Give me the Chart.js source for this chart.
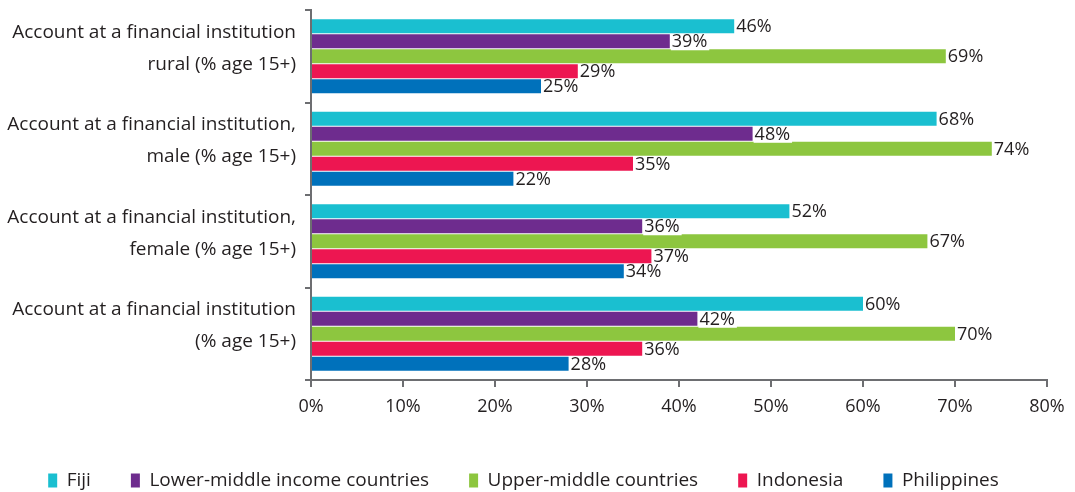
<!DOCTYPE html>
<html>
<head>
<meta charset="utf-8">
<script src="https://cdn.jsdelivr.net/npm/chart.js@4/dist/chart.umd.min.js"></script>
<style>
  html, body { margin: 0; padding: 0; background: #fff; }
  .chartBox { width: 1075px; height: 492px; }
</style>
</head>
<body>
<div class="chartBox"><canvas id="chart"></canvas></div>
<script>
// data
const categories = [
  ["Account at a financial institution", "rural (% age 15+)"],
  ["Account at a financial institution,", "male (% age 15+)"],
  ["Account at a financial institution,", "female (% age 15+)"],
  ["Account at a financial institution", "(% age 15+)"],
];
const seriesNames = ["Fiji", "Lower-middle income countries", "Upper-middle countries", "Indonesia", "Philippines"];
const fiji = [46, 68, 52, 60];
const lowerMiddle = [39, 48, 36, 42];
const upperMiddle = [69, 74, 67, 70];
const indonesia = [29, 35, 37, 36];
const philippines = [25, 22, 34, 28];
const xTicks = [0, 10, 20, 30, 40, 50, 60, 70, 80];

const colors = ["#1abfd0", "#6e2c8e", "#8dc63f", "#ed1651", "#0071bb"];
const seriesValues = [fiji, lowerMiddle, upperMiddle, indonesia, philippines];
const FONT = "'Open Sans', sans-serif";
const TEXT = "#231f20";
const AXIS = "#6d6e71";

// value labels with white box, right of bar end
const valueLabels = {
  id: "valueLabels",
  afterDatasetsDraw(chart) {
    const { ctx } = chart;
    ctx.save();
    ctx.font = "18px " + FONT;
    ctx.textBaseline = "middle";
    ctx.textAlign = "left";
    chart.data.datasets.forEach((dataset, di) => {
      const meta = chart.getDatasetMeta(di);
      meta.data.forEach((bar, i) => {
        const txt = dataset.data[i] + "%";
        const w = ctx.measureText(txt).width;
        ctx.fillStyle = "#fff";
        ctx.fillRect(bar.x + 1, bar.y - 7, w + 3, 16);
        ctx.fillStyle = TEXT;
        ctx.fillText(txt, bar.x + 2, bar.y + 1);
      });
    });
    ctx.restore();
  },
};

// push legend a bit lower
const legendShift = {
  id: "legendShift",
  afterLayout(chart) {
    chart.legend.top += 8;
    chart.legend.bottom += 8;
  },
};

const data = {
  labels: categories,
  datasets: seriesNames.map((name, i) => ({
    label: name,
    data: seriesValues[i],
    backgroundColor: colors[i],
    borderWidth: 0,
    categoryPercentage: 0.81,
    barPercentage: 0.93,
  })),
};

new Chart(document.getElementById("chart"), {
  type: "bar",
  data,
  options: {
    indexAxis: "y",
    responsive: true,
    maintainAspectRatio: false,
    animation: false,
    layout: { padding: { top: 10, right: 28, left: 0, bottom: 0 } },
    plugins: {
      legend: {
        position: "bottom",
        labels: {
          boxWidth: 9,
          boxHeight: 14,
          padding: 40,
          color: TEXT,
          font: { family: FONT, size: 19 },
        },
      },
      tooltip: { enabled: false },
    },
    scales: {
      x: {
        min: 0,
        max: 80,
        afterBuildTicks(scale) {
          scale.ticks = xTicks.map((v) => ({ value: v }));
        },
        afterFit(scale) {
          scale.height = 43;
          scale.paddingLeft = 0;
          scale.paddingRight = 0;
        },
        border: { color: AXIS, width: 2 },
        grid: {
          drawOnChartArea: false,
          drawTicks: true,
          tickLength: 7,
          color: AXIS,
          lineWidth: 2,
        },
        ticks: {
          padding: 9,
          color: TEXT,
          font: { family: FONT, size: 18 },
          callback: (v) => v + "%",
        },
      },
      y: {
        afterFit(scale) {
          scale.width = 311;
          scale.paddingTop = 0;
          scale.paddingBottom = 0;
        },
        border: { color: AXIS, width: 2 },
        grid: {
          offset: true,
          drawOnChartArea: false,
          drawTicks: true,
          tickLength: 6,
          color: AXIS,
          lineWidth: 2,
        },
        ticks: {
          padding: 9,
          labelOffset: -8,
          color: TEXT,
          font: { family: FONT, size: 19, lineHeight: 1.68 },
        },
      },
    },
  },
  plugins: [valueLabels, legendShift],
});
</script>
</body>
</html>
